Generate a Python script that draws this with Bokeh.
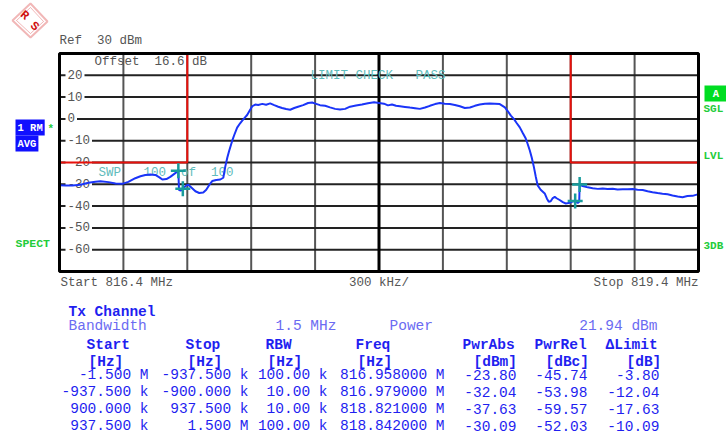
from bokeh.plotting import figure
from bokeh.models import Label, PolyAnnotation
from bokeh.embed import file_html
from bokeh.resources import INLINE

# ---------------- data ----------------
X_START, X_STOP = 816.4, 819.4          # MHz
Y_BOTTOM, REF_LEVEL = -70, 30           # dBm
X_DIV = 0.3                             # 300 kHz / div
Y_DIV = 10                              # 10 dB / div
y_tick_values = [20, 10, 0, -10, -20, -30, -40, -50, -60]

freq_mhz = [
    816.400, 816.428, 816.461, 816.498, 816.536, 816.569, 816.592, 816.630, 816.663, 816.695,
    816.723, 816.756, 816.780, 816.803, 816.827, 816.850, 816.869, 816.883, 816.902, 816.920,
    816.939, 816.958, 816.961, 816.970, 816.979, 816.995, 817.005, 817.019, 817.038, 817.056,
    817.075, 817.089, 817.103, 817.117, 817.136, 817.155, 817.169, 817.178, 817.188, 817.197,
    817.211, 817.220, 817.234, 817.248, 817.258, 817.272, 817.281, 817.291, 817.305, 817.319,
    817.333, 817.352, 817.370, 817.389, 817.408, 817.427, 817.445, 817.464, 817.483, 817.502,
    817.520, 817.544, 817.567, 817.586, 817.605, 817.623, 817.647, 817.670, 817.694, 817.717,
    817.741, 817.764, 817.792, 817.820, 817.848, 817.877, 817.900, 817.923, 817.942, 817.961,
    817.980, 817.998, 818.022, 818.045, 818.069, 818.092, 818.116, 818.139, 818.163, 818.186,
    818.209, 818.233, 818.256, 818.280, 818.303, 818.327, 818.350, 818.373, 818.397, 818.420,
    818.444, 818.467, 818.491, 818.505, 818.519, 818.533, 818.547, 818.561, 818.575, 818.589,
    818.598, 818.608, 818.617, 818.627, 818.636, 818.645, 818.659, 818.678, 818.688, 818.697,
    818.706, 818.716, 818.725, 818.734, 818.748, 818.763, 818.777, 818.791, 818.805, 818.821,
    818.833, 818.840, 818.842, 818.856, 818.880, 818.903, 818.927, 818.950, 818.973, 818.997,
    819.020, 819.044, 819.067, 819.091, 819.114, 819.138, 819.161, 819.184, 819.208, 819.231,
    819.255, 819.278, 819.302, 819.325, 819.348, 819.372, 819.400,
]
level_dbm = [
    -30.4, -30.5, -30.6, -30.2, -29.3, -28.8, -28.6, -29.0, -29.6, -29.8,
    -28.9, -27.2, -26.3, -25.7, -25.5, -25.7, -26.8, -27.8, -27.6, -26.6,
    -25.2, -23.8, -32.6, -32.8, -32.0, -30.5, -30.2, -31.5, -33.2, -34.0,
    -33.8, -32.5, -30.3, -28.5, -28.0, -27.8, -27.0, -22.0, -17.7, -14.5,
    -10.0, -7.5, -4.0, -2.0, -0.8, 0.8, 1.8, 3.5, 5.8, 6.6,
    6.4, 6.9, 6.5, 7.1, 6.3, 5.6, 5.0, 4.5, 4.2, 5.0,
    5.6, 6.3, 7.3, 7.5, 6.9, 6.3, 6.0, 5.3, 4.6, 4.3,
    4.6, 5.6, 6.1, 6.6, 7.2, 7.6, 7.3, 7.0, 6.2, 6.6,
    6.0, 5.8, 5.5, 5.2, 4.9, 4.6, 5.2, 6.0, 6.8, 7.3,
    7.0, 6.8, 6.4, 5.8, 5.0, 5.2, 6.0, 6.6, 7.0, 7.1,
    7.0, 6.8, 5.3, 3.5, 1.5, 0.0, -2.0, -3.9, -6.5, -9.0,
    -11.5, -14.5, -17.7, -22.0, -26.5, -30.5, -32.5, -34.2, -36.5, -38.0,
    -37.8, -36.3, -35.8, -36.4, -37.2, -38.2, -38.8, -38.6, -38.0, -37.6,
    -38.6, -38.0, -30.1, -30.8, -31.4, -31.8, -32.1, -31.9, -32.2, -32.0,
    -32.4, -32.3, -32.3, -32.2, -32.5, -32.6, -33.2, -33.6, -34.0, -34.3,
    -34.6, -35.1, -35.6, -35.9, -35.4, -35.3, -34.5,
]

limit_left_f = [816.4, 817.0, 817.0]
limit_left_db = [-20, -20, 30]
limit_right_f = [818.8, 818.8, 819.4]
limit_right_db = [30, -20, -20]

col_start = ["-1.500 M", "-937.500 k", "900.000 k", "937.500 k"]
col_stop = ["-937.500 k", "-900.000 k", "937.500 k", "1.500 M"]
col_rbw = ["100.00 k", "10.00 k", "10.00 k", "100.00 k"]
marker_freq_mhz = [816.958, 816.979, 818.821, 818.842]
pwr_abs = [-23.80, -32.04, -37.63, -30.09]
pwr_rel = [-45.74, -53.98, -59.57, -52.03]
delta_limit = [-3.80, -12.04, -17.63, -10.09]
channel_bw = "1.5 MHz"
channel_power = "21.94 dBm"

# ---------------- layout ----------------
W, H = 726, 434
FL, FT, FR, FB = 59, 53, 698, 271   # graticule edges in pixels
FONT = "Liberation Mono"
GREY = "#555555"
TEAL = "#5fbcbc"
MARK = "#179c9c"
BLUE = "#1f1ff0"
LBLUE = "#6b6bf2"
TRACE = "#1a34f8"
RED = "#e8100b"
GREEN = "#22cc3a"
LOGO = "#d01010"
NB = "\u00a0"


def fx(px):
    return X_START + (px - FL) * (X_STOP - X_START) / (FR - FL)


def fy(py):
    return REF_LEVEL - (py - FT) * (REF_LEVEL - Y_BOTTOM) / (FB - FT)


# the frame covers the whole canvas; the graticule is drawn from the data limits
p = figure(width=W, height=H, output_backend="svg", toolbar_location=None,
           x_range=(fx(0), fx(W)), y_range=(fy(H), fy(0)),
           x_axis_type=None, y_axis_type=None, min_border=0)
p.outline_line_color = None
p.background_fill_color = "white"
p.border_fill_color = "white"
p.grid.visible = False

# graticule
x_grid = [round(X_START + i * X_DIV, 3) for i in range(1, 10)]
y_grid = [REF_LEVEL - Y_DIV * i for i in range(1, 10)]
p.segment(x0=x_grid, x1=x_grid, y0=[Y_BOTTOM] * len(x_grid), y1=[REF_LEVEL] * len(x_grid),
          line_color="#555555", line_width=2)
p.segment(x0=[X_START] * len(y_grid), x1=[X_STOP] * len(y_grid), y0=y_grid, y1=y_grid,
          line_color="#222222", line_width=2)
p.segment(x0=[(X_START + X_STOP) / 2], x1=[(X_START + X_STOP) / 2],
          y0=[Y_BOTTOM], y1=[REF_LEVEL], line_color="black", line_width=3)


def lab(text, px, py, size="12.5px", color=GREY, align="left", bold=False,
        bg=None, pad=0, angle=0.0, x=None, y=None):
    l = Label(x=fx(px) if x is None else x, y=fy(py) if y is None else y,
              text=text.replace(" ", NB), text_font=FONT, text_font_size=size,
              text_color=color, text_align=align, text_baseline="middle",
              text_font_style="bold" if bold else "normal", angle=angle)
    if bg is not None:
        l.background_fill_color = bg
        l.padding = pad
    p.add_layout(l)
    return l


# y tick labels inside the graticule
for v in y_tick_values:
    lab(str(v), 65, None, y=v, bg="white", pad=2).y_offset = 1

# texts around the graph
lab("Ref  30 dBm", 59, 40)
lab("Offset  16.6 dB", 94, 61)
lab("LIMIT CHECK   PASS", 310, 75, color=TEAL)
lab("SWP   100  of  100", 98, 172, color=TEAL)
lab("Start %.1f MHz" % X_START, 60, 282)
lab("%d kHz/" % round(X_DIV * 1000), (FL + FR) / 2, 282, align="center")
lab("Stop %.1f MHz" % X_STOP, FR, 282, align="right")

# limit lines, trace and markers on top of the graticule texts
p.line(limit_left_f, limit_left_db, line_color=RED, line_width=2, level="overlay")
p.line(limit_right_f, limit_right_db, line_color=RED, line_width=2, level="overlay")
p.line(freq_mhz, level_dbm, line_color=TRACE, line_width=2, level="overlay")
p.scatter(marker_freq_mhz, pwr_abs, marker="cross", size=15,
          line_color=MARK, line_width=2.5, level="overlay")

# outer border of the graticule
p.quad(left=[X_START], right=[X_STOP], bottom=[Y_BOTTOM], top=[REF_LEVEL],
       fill_color=None, line_color="black", line_width=3, level="overlay")

# left status labels
lab("1 RM", 15, 127, size="10.5px", color="white", bold=True, bg="#1010ff", pad=2)
lab("AVG", 15, 143, size="10.5px", color="white", bold=True, bg="#1010ff", pad=2)
lab("*", 47, 128, size="11px", color=GREEN, bold=True)
lab("SPECT", 15, 243, size="11.5px", color=GREEN, bold=True)

# right status labels
lab(" A ", 704, 93, size="10.5px", color="white", bold=True, bg="#00dd22", pad=2)
lab("SGL", 703, 108, size="11px", color=GREEN, bold=True)
lab("LVL", 703, 155, size="11px", color=GREEN, bold=True)
lab("3DB", 703, 245, size="11px", color=GREEN, bold=True)

# R&S logo
p.add_layout(PolyAnnotation(xs=[fx(12), fx(30), fx(47), fx(30)],
                            ys=[fy(20), fy(3), fy(21), fy(37)],
                            fill_alpha=0, line_color=LOGO, line_width=2))
p.add_layout(PolyAnnotation(xs=[fx(16), fx(30), fx(43), fx(30)],
                            ys=[fy(20), fy(7), fy(21), fy(33)],
                            fill_alpha=0, line_color=LOGO, line_width=1))
lab("R", 24, 15, size="12px", color=LOGO, bold=True, align="center", angle=-0.7)
lab("S", 34, 26, size="12px", color=LOGO, bold=True, align="center", angle=-0.7)

# ---------------- table ----------------
TS = "14.5px"
lab("Tx Channel", 68, 311, size=TS, color=BLUE, bold=True)
lab("Bandwidth", 68, 325, size=TS, color=LBLUE)
lab(channel_bw, 275, 325, size=TS, color=LBLUE)
lab("Power", 389, 325, size=TS, color=LBLUE)
lab(channel_power, 657, 325, size=TS, color=LBLUE, align="right")

headers = ["Start", "Stop", "RBW", "Freq", "PwrAbs", "PwrRel", "\u0394Limit"]
header_x = [86, 185, 265, 355, 462, 534, 605]
units = ["[Hz]", "[Hz]", "[Hz]", "[Hz]", "[dBm]", "[dBc]", "[dB]"]
units_x = [88, 187, 267, 357, 473, 545, 626]
for t, x in zip(headers, header_x):
    lab(t, x, 344, size=TS, color=BLUE, bold=True)
for t, x in zip(units, units_x):
    lab(t, x, 361, size=TS, color=BLUE, bold=True)

col_right = [148, 248, 327, 444, 516, 587, 659]
row_y = [374, 391, 408, 425]
for i, ry in enumerate(row_y):
    cells = [col_start[i], col_stop[i], col_rbw[i],
             "%.6f M" % marker_freq_mhz[i],
             "%.2f" % pwr_abs[i], "%.2f" % pwr_rel[i], "%.2f" % delta_limit[i]]
    for c, rx in zip(cells, col_right):
        lab(c, rx, ry, size=TS, color=BLUE, align="right")

open("out.html", "w").write(file_html(p, INLINE))
